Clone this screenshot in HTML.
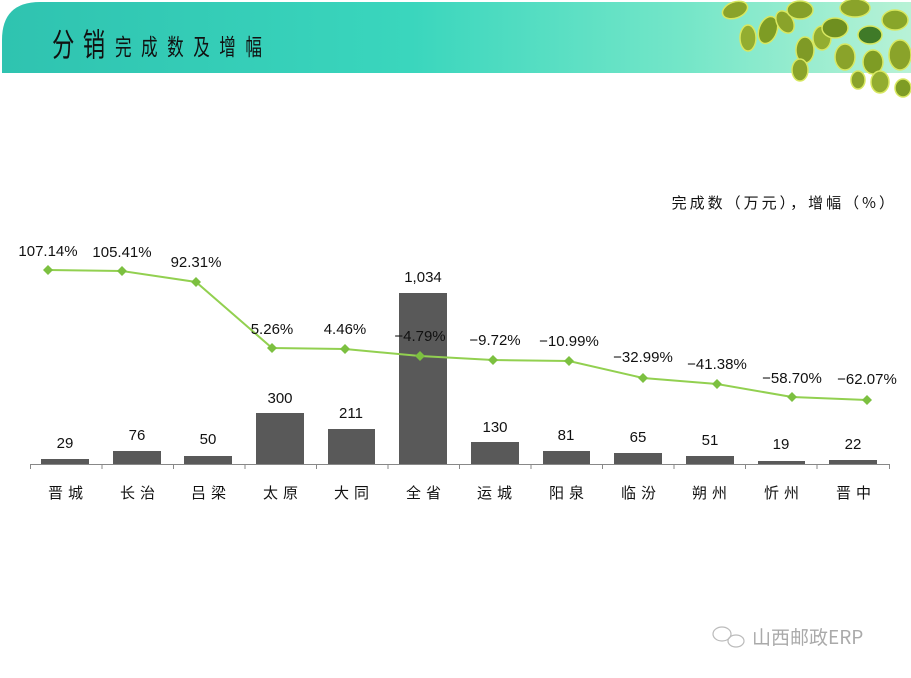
<!DOCTYPE html>
<html><head><meta charset="utf-8"><style>
body{margin:0;width:911px;height:678px;background:#fff;overflow:hidden;font-family:"Liberation Sans","Noto Sans CJK SC",sans-serif}
</style></head><body>
<svg width="911" height="678" xmlns="http://www.w3.org/2000/svg" style="position:absolute;left:0;top:0">
<defs>
<linearGradient id="hg" x1="0" x2="1" y1="0" y2="0">
<stop offset="0" stop-color="#2fc3b0"/><stop offset="0.45" stop-color="#3ad6bd"/><stop offset="0.75" stop-color="#74e6c8"/><stop offset="1" stop-color="#b8f2d6"/>
</linearGradient>
</defs>
<path d="M2,73 L2,40 Q2,2 40,2 L911,2 L911,73 Z" fill="url(#hg)"/>
<g transform="translate(52,0) scale(0.7,1)">
<text x="0" y="56" font-size="32" fill="#111" font-family="Noto Sans CJK SC,sans-serif" textLength="76" lengthAdjust="spacing">分销</text>
</g>
<g transform="translate(115,0) scale(0.72,1)">
<text x="0" y="55" font-size="23" fill="#111" font-family="Noto Sans CJK SC,sans-serif" textLength="204" lengthAdjust="spacing">完成数及增幅</text>
</g>
<g stroke="#d8e860" stroke-width="1.5">
<ellipse cx="735" cy="10" rx="13" ry="8" fill="#8aa32a" transform="rotate(-20 735 10)"/>
<ellipse cx="768" cy="30" rx="9" ry="14" fill="#7e9c24" transform="rotate(20 768 30)"/>
<ellipse cx="748" cy="38" rx="8" ry="13" fill="#93ad30"/>
<ellipse cx="785" cy="22" rx="8" ry="12" fill="#8aa32a" transform="rotate(-30 785 22)"/>
<ellipse cx="800" cy="10" rx="13" ry="9" fill="#86a028"/>
<ellipse cx="805" cy="50" rx="9" ry="13" fill="#7f9a26"/>
<ellipse cx="800" cy="70" rx="8" ry="11" fill="#8aa32a"/>
<ellipse cx="822" cy="38" rx="9" ry="12" fill="#93ad30"/>
<ellipse cx="835" cy="28" rx="13" ry="10" fill="#6f8f20"/>
<ellipse cx="855" cy="8" rx="15" ry="9" fill="#8aa32a"/>
<ellipse cx="870" cy="35" rx="12" ry="9" fill="#3f7a28"/>
<ellipse cx="845" cy="57" rx="10" ry="13" fill="#8aa32a"/>
<ellipse cx="873" cy="62" rx="10" ry="12" fill="#7e9c24"/>
<ellipse cx="895" cy="20" rx="13" ry="10" fill="#88a52a"/>
<ellipse cx="900" cy="55" rx="11" ry="15" fill="#8aa32a"/>
<ellipse cx="880" cy="82" rx="9" ry="11" fill="#93ad30"/>
<ellipse cx="903" cy="88" rx="8" ry="9" fill="#7e9c24"/>
<ellipse cx="858" cy="80" rx="7" ry="9" fill="#8aa32a"/>
</g>
<text x="897" y="208" font-size="15" text-anchor="end" fill="#111" font-family="Noto Sans CJK SC,sans-serif" letter-spacing="3">完成数（万元），增幅（%）</text>
<g fill="#595959">
<rect x="41" y="459" width="48" height="5"/>
<rect x="113" y="451" width="48" height="13"/>
<rect x="184" y="456" width="48" height="8"/>
<rect x="256" y="413" width="48" height="51"/>
<rect x="328" y="429" width="47" height="35"/>
<rect x="399" y="293" width="48" height="171"/>
<rect x="471" y="442" width="48" height="22"/>
<rect x="543" y="451" width="47" height="13"/>
<rect x="614" y="453" width="48" height="11"/>
<rect x="686" y="456" width="48" height="8"/>
<rect x="758" y="461" width="47" height="3"/>
<rect x="829" y="460" width="48" height="4"/>
</g>
<g stroke="#888" stroke-width="1">
<line x1="30" y1="464.5" x2="890" y2="464.5"/>
<path d="M30.5,464v5M102,464v5M173.5,464v5M245,464v5M316.5,464v5M388,464v5M459.5,464v5M531,464v5M602.5,464v5M674,464v5M745.5,464v5M817,464v5M889.5,464v5"/>
</g>
<polyline fill="none" stroke="#92d050" stroke-width="2" points="48,270 122,271 196,282 272,348 345,349 420,356 493,360 569,361 643,378 717,384 792,397 867,400"/>
<g fill="#7cc040">
<path d="M48,265l5,5-5,5-5-5z"/><path d="M122,266l5,5-5,5-5-5z"/><path d="M196,277l5,5-5,5-5-5z"/><path d="M272,343l5,5-5,5-5-5z"/><path d="M345,344l5,5-5,5-5-5z"/><path d="M420,351l5,5-5,5-5-5z"/><path d="M493,355l5,5-5,5-5-5z"/><path d="M569,356l5,5-5,5-5-5z"/><path d="M643,373l5,5-5,5-5-5z"/><path d="M717,379l5,5-5,5-5-5z"/><path d="M792,392l5,5-5,5-5-5z"/><path d="M867,395l5,5-5,5-5-5z"/>
</g>
<g font-size="15" fill="#111" text-anchor="middle">
<text x="48" y="256">107.14%</text><text x="122" y="257">105.41%</text><text x="196" y="267">92.31%</text><text x="272" y="334">5.26%</text><text x="345" y="334">4.46%</text><text x="420" y="341">−4.79%</text><text x="495" y="345">−9.72%</text><text x="569" y="346">−10.99%</text><text x="643" y="362">−32.99%</text><text x="717" y="369">−41.38%</text><text x="792" y="383">−58.70%</text><text x="867" y="384">−62.07%</text>
<text x="65" y="448">29</text><text x="137" y="440">76</text><text x="208" y="444">50</text><text x="280" y="403">300</text><text x="351" y="418">211</text><text x="423" y="282">1,034</text><text x="495" y="432">130</text><text x="566" y="440">81</text><text x="638" y="442">65</text><text x="710" y="445">51</text><text x="781" y="449">19</text><text x="853" y="449">22</text>
</g>
<g font-size="15" fill="#111" text-anchor="middle" font-family="Noto Sans CJK SC,sans-serif" letter-spacing="5">
<text x="68" y="498">晋城</text><text x="140" y="498">长治</text><text x="211" y="498">吕梁</text><text x="283" y="498">太原</text><text x="354" y="498">大同</text><text x="426" y="498">全省</text><text x="497" y="498">运城</text><text x="569" y="498">阳泉</text><text x="641" y="498">临汾</text><text x="712" y="498">朔州</text><text x="784" y="498">忻州</text><text x="856" y="498">晋中</text>
</g>
<g fill="none" stroke="#bbb" stroke-width="1.2"><ellipse cx="722" cy="634" rx="9" ry="7"/><ellipse cx="736" cy="641" rx="8" ry="6"/></g>
<text x="752" y="644" font-size="19" fill="#aaa" font-family="Noto Sans CJK SC,sans-serif">山西邮政ERP</text>
</svg>
</body></html>
